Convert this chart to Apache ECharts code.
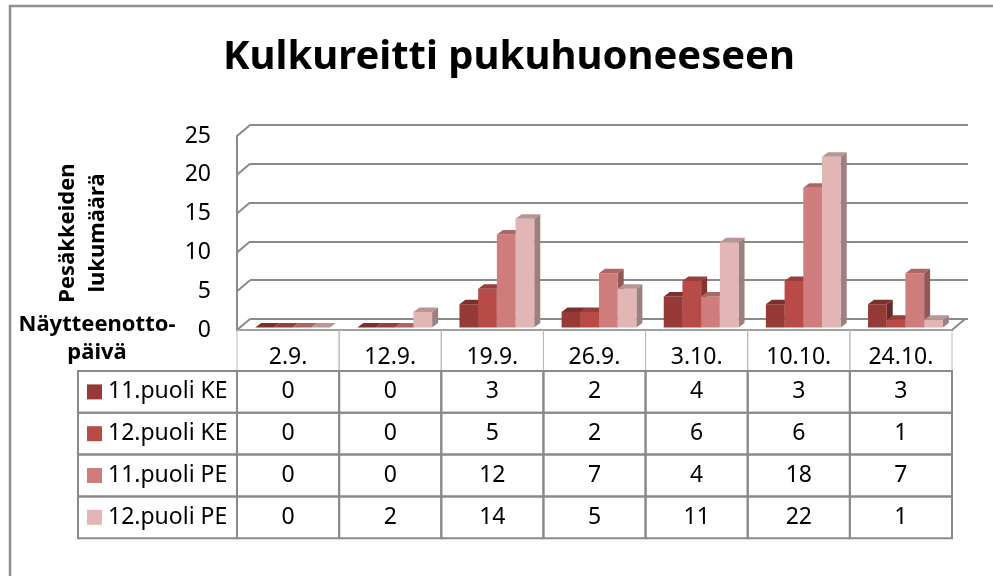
<!DOCTYPE html>
<html>
<head>
<meta charset="utf-8">
<script src="https://cdn.jsdelivr.net/npm/echarts@6/dist/echarts.min.js"></script>
<style>
  html, body { margin: 0; padding: 0; background: #fff; }
  #chart { width: 993px; height: 576px; }
</style>
</head>
<body>
<div id="chart"></div>
<script>
var categories = ['2.9.', '12.9.', '19.9.', '26.9.', '3.10.', '10.10.', '24.10.'];
var seriesNames = ['11.puoli KE', '12.puoli KE', '11.puoli PE', '12.puoli PE'];
var ke11 = [0, 0, 3, 2, 4, 3, 3];
var ke12 = [0, 0, 5, 2, 6, 6, 1];
var pe11 = [0, 0, 12, 7, 4, 18, 7];
var pe12 = [0, 2, 14, 5, 11, 22, 1];
var yTicks = [0, 5, 10, 15, 20, 25];

var allValues = [ke11, ke12, pe11, pe12];
var colors = ['#963a38', '#b84a47', '#cf7d7c', '#e2b6b5'];
var gray = '#8a8a8a';
var font = '"Noto Sans", sans-serif';

// darken a hex colour for the 3D faces
function shade(hex, f) {
    var n = parseInt(hex.slice(1), 16);
    var r = Math.round(((n >> 16) & 255) * f);
    var g = Math.round(((n >> 8) & 255) * f);
    var b = Math.round((n & 255) * f);
    return 'rgb(' + r + ',' + g + ',' + b + ')';
}

// 3D column: front face, side face, top face
function barRender(si) {
    return function(params, api) {
        var cat = api.value(0);
        var top = api.coord([cat, api.value(1)]);
        var base = api.coord([cat, 0]);
        var bw = 18.7, dx = 6, dy = -4.5;
        var x0 = top[0] + (si - 2) * bw, x1 = x0 + bw;
        var c = colors[si];
        return {
            type: 'group',
            children: [{
                type: 'polygon',
                shape: { points: [[x1, top[1]], [x1 + dx, top[1] + dy], [x1 + dx, base[1] + dy], [x1, base[1]]] },
                style: { fill: shade(c, 0.7) }
            }, {
                type: 'rect',
                shape: { x: x0, y: top[1], width: bw, height: base[1] - top[1] },
                style: { fill: c }
            }, {
                type: 'polygon',
                shape: { points: [[x0, top[1]], [x1, top[1]], [x1 + dx, top[1] + dy], [x0 + dx, top[1] + dy]] },
                style: { fill: shade(c, 0.82) }
            }]
        };
    };
}

// left wall diagonals and floor corner
function wallRender(params, api) {
    var cs = params.coordSys;
    var v = api.value(1);
    var y = api.coord([0, v])[1];
    var st = { stroke: gray, lineWidth: 2 };
    var children = [{ type: 'line', shape: { x1: cs.x, y1: y, x2: cs.x + 13, y2: y - 11 }, style: st }];
    if (v === 0) {
        children.push({ type: 'line', shape: { x1: cs.x + cs.width, y1: y, x2: cs.x + cs.width + 13, y2: y - 11 }, style: st });
    }
    return { type: 'group', children: children };
}

// data table under the chart
function tableRender(params, api) {
    var c = api.value(0), r = api.value(1);
    var cs = params.coordSys;
    var cx = api.coord([c, 0])[0];
    var w = api.size([1, 0])[0];
    var y0 = cs.y + cs.height;
    var headH = 41, rowH = 41.8;
    var tf = '23px ' + font;
    var children = [];
    if (r < 0) {
        children.push({
            type: 'rect', shape: { x: cx - w / 2, y: y0, width: w, height: headH },
            style: { fill: 'none', stroke: '#b8b8b8', lineWidth: 1 }
        }, {
            type: 'text', x: cx, y: y0 + headH * 0.68,
            style: { text: categories[c], font: tf, fill: '#000', align: 'center', verticalAlign: 'middle' }
        });
        return { type: 'group', children: children };
    }
    var top = y0 + headH + r * rowH;
    if (c === 0) {
        var lx = 78, rx = cx - w / 2;
        children.push({
            type: 'rect', shape: { x: lx, y: top, width: rx - lx, height: rowH },
            style: { fill: 'none', stroke: gray, lineWidth: 2 }
        }, {
            type: 'rect', shape: { x: 87, y: top + rowH / 2 - 7.5, width: 15, height: 15 },
            style: { fill: colors[r] }
        }, {
            type: 'text', x: 108, y: top + rowH / 2,
            style: { text: seriesNames[r], font: tf, fill: '#000', align: 'left', verticalAlign: 'middle' }
        });
    }
    children.push({
        type: 'rect', shape: { x: cx - w / 2, y: top, width: w, height: rowH },
        style: { fill: 'none', stroke: gray, lineWidth: 2 }
    }, {
        type: 'text', x: cx, y: top + rowH / 2,
        style: { text: String(allValues[r][c]), font: tf, fill: '#000', align: 'center', verticalAlign: 'middle' }
    });
    return { type: 'group', children: children };
}

var tableData = [];
categories.forEach(function(cat, c) {
    tableData.push([c, -1]);
    seriesNames.forEach(function(name, r) { tableData.push([c, r]); });
});

var series = [{
    type: 'custom', name: 'wall', xAxisIndex: 1, yAxisIndex: 1,
    renderItem: wallRender, silent: true,
    data: yTicks.map(function(v) { return [0, v]; })
}, {
    type: 'custom', name: 'table', xAxisIndex: 1, yAxisIndex: 1,
    renderItem: tableRender, silent: true,
    data: tableData
}];
seriesNames.forEach(function(name, si) {
    series.push({
        type: 'custom', name: name, xAxisIndex: 2, yAxisIndex: 2,
        renderItem: barRender(si), silent: true,
        data: allValues[si].map(function(v, i) { return [i, v]; })
    });
});

var option = {
    animation: false,
    backgroundColor: '#fff',
    grid: [
        { left: 250, top: 125, width: 718, height: 194 },   // back wall
        { left: 237, top: 136, width: 715, height: 194 },   // front plane
        { left: 241.5, top: 133.5, width: 715, height: 194 } // bars
    ],
    xAxis: [
        { type: 'category', data: categories, gridIndex: 0, show: false },
        {
            type: 'category', data: categories, gridIndex: 1,
            axisLine: { lineStyle: { color: gray, width: 2 } },
            axisTick: { show: false }, axisLabel: { show: false }
        },
        { type: 'category', data: categories, gridIndex: 2, show: false }
    ],
    yAxis: [{
        type: 'value', gridIndex: 0, min: 0, max: 25, interval: 5,
        axisLine: { show: false }, axisTick: { show: false }, axisLabel: { show: false },
        splitLine: { lineStyle: { color: gray, width: 2 } }
    }, {
        type: 'value', gridIndex: 1, min: 0, max: 25, interval: 5,
        axisLine: { show: true, lineStyle: { color: gray, width: 2 } },
        axisTick: { show: false },
        axisLabel: { margin: 26, color: '#000', fontSize: 23, fontFamily: font },
        splitLine: { show: false },
        name: 'Pesäkkeiden\nlukumäärä',
        nameLocation: 'middle', nameRotate: 90, nameGap: 124,
        nameTextStyle: { color: '#000', fontSize: 22, fontWeight: 'bold', fontFamily: font, lineHeight: 30 }
    }, {
        type: 'value', gridIndex: 2, min: 0, max: 25, interval: 5, show: false
    }],
    graphic: [{
        type: 'polyline',
        shape: { points: [[10, 576], [10, 6], [993, 6]] },
        style: { stroke: '#8f8f8f', lineWidth: 2.5, fill: 'none' }
    }, {
        type: 'text', x: 509, y: 58,
        style: { text: 'Kulkureitti pukuhuoneeseen', font: 'bold 40px ' + font, fill: '#000', align: 'center', verticalAlign: 'middle' }
    }, {
        type: 'text', x: 97, y: 325,
        style: { text: 'Näytteenotto-', font: 'bold 22px ' + font, fill: '#000', align: 'center', verticalAlign: 'middle' }
    }, {
        type: 'text', x: 97, y: 353,
        style: { text: 'päivä', font: 'bold 22px ' + font, fill: '#000', align: 'center', verticalAlign: 'middle' }
    }],
    series: series
};

var myChart = echarts.init(document.getElementById('chart'));
myChart.setOption(option);
</script>
</body>
</html>
